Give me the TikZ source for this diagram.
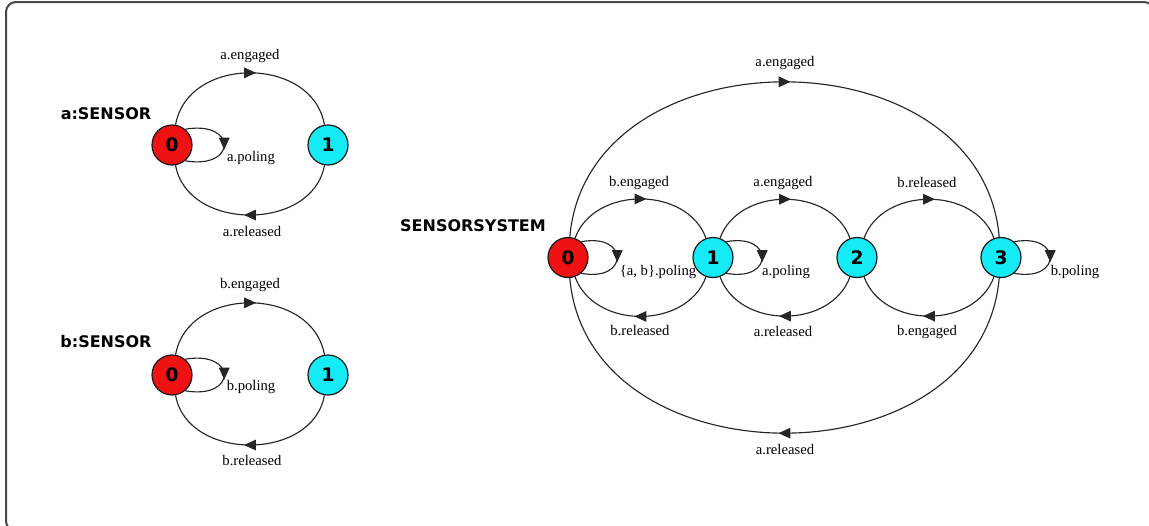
\documentclass[tikz,border=0pt]{standalone}
\usepackage{fontspec}
\setmainfont{Liberation Serif}
\newfontfamily\headfont{DejaVu Sans}
\usetikzlibrary{arrows.meta,decorations.markings}

\definecolor{statered}{RGB}{238,18,18}
\definecolor{statecyan}{RGB}{20,235,245}
\definecolor{framegray}{RGB}{70,70,70}

\tikzset{
  st/.style={circle, draw=black!90, line width=0.9pt, minimum size=30pt, inner sep=0pt,
             font=\headfont\bfseries\fontsize{14}{14}\selectfont},
  initst/.style={st, fill=statered},
  otherst/.style={st, fill=statecyan},
  edge/.style={draw=black!85, line width=0.85pt},
  fwd/.style={postaction={decorate}, decoration={markings,
      mark=at position 0.5 with {\arrow[xshift=4.5pt]{Triangle[length=9pt,width=8pt]}}}},
  loopfwd/.style={postaction={decorate}, decoration={markings,
      mark=at position 0.5 with {\arrow[xshift=3.5pt]{Triangle[length=9pt,width=8pt]}}}},
  lbl/.style={inner sep=0pt, font=\fontsize{11}{11}\selectfont},
  ttl/.style={inner sep=0pt, font=\headfont\bfseries\fontsize{12}{12}\selectfont},
  frame/.style={draw=framegray, line width=1.5pt, rounded corners=7.5pt}
}

\begin{document}
\begin{tikzpicture}[x=0.75pt,y=0.75pt]
\useasboundingbox (0,0) rectangle (1149,-525);
\begin{scope}
\clip (0,0) rectangle (1149,-525);
\draw[frame] (6,-2) rectangle (1154,-531);
\end{scope}

% ---- a:SENSOR ----
\node[ttl] (ta) at (106,-114) {a:SENSOR};
\node[initst]  (a0) at (172,-145) {0};
\node[otherst] (a1) at (328,-145) {1};
\draw[edge,fwd] (a0) to[out=80,in=100,looseness=1.21] (a1);
\draw[edge,fwd] (a1) to[out=-100,in=-80,looseness=1.16] (a0);
\draw[edge,loopfwd] (a0.50) .. controls +(52,9) and +(52,-9) .. (a0.-50);
\node[lbl] (la1) at (250,-56) {a.engaged};
\node[lbl] (la2) at (251,-158) {a.poling};
\node[lbl] (la3) at (252,-232) {a.released};

% ---- b:SENSOR ----
\node[ttl] (tb) at (106,-342) {b:SENSOR};
\node[initst]  (b0) at (172,-375) {0};
\node[otherst] (b1) at (328,-375) {1};
\draw[edge,fwd] (b0) to[out=80,in=100,looseness=1.21] (b1);
\draw[edge,fwd] (b1) to[out=-100,in=-80,looseness=1.16] (b0);
\draw[edge,loopfwd] (b0.50) .. controls +(52,9) and +(52,-9) .. (b0.-50);
\node[lbl] (lb1) at (250,-285) {b.engaged};
\node[lbl] (lb2) at (251,-387) {b.poling};
\node[lbl] (lb3) at (252,-461) {b.released};

% ---- SENSORSYSTEM ----
\node[ttl] (ts) at (473,-225.5) {SENSORSYSTEM};
\node[initst]  (s0) at (568,-257.5) {0};
\node[otherst] (s1) at (713,-257.5) {1};
\node[otherst] (s2) at (857,-257.5) {2};
\node[otherst] (s3) at (1001,-257.5) {3};

\draw[edge,fwd] (s0) to[out=85,in=95,looseness=1.24] (s3);
\draw[edge,fwd] (s3) to[out=-95,in=-85,looseness=1.24] (s0);

\draw[edge,fwd] (s0) to[out=70,in=110,looseness=1.09] (s1);
\draw[edge,fwd] (s1) to[out=-110,in=-70,looseness=1.1] (s0);
\draw[edge,fwd] (s1) to[out=70,in=110,looseness=1.09] (s2);
\draw[edge,fwd] (s2) to[out=-110,in=-70,looseness=1.1] (s1);
\draw[edge,fwd] (s2) to[out=70,in=110,looseness=1.09] (s3);
\draw[edge,fwd] (s3) to[out=-110,in=-70,looseness=1.1] (s2);

\draw[edge,loopfwd] (s0.50) .. controls +(48,9) and +(48,-9) .. (s0.-50);
\draw[edge,loopfwd] (s1.50) .. controls +(48,9) and +(48,-9) .. (s1.-50);
\draw[edge,loopfwd] (s3.50) .. controls +(48,9) and +(48,-9) .. (s3.-50);

\node[lbl] (ls1) at (785,-63) {a.engaged};
\node[lbl] (ls2) at (785,-450) {a.released};
\node[lbl] (ls3) at (639,-182.5) {b.engaged};
\node[lbl] (ls4) at (783,-182.5) {a.engaged};
\node[lbl] (ls5) at (927,-182.5) {b.released};
\node[lbl] (ls6) at (640,-331) {b.released};
\node[lbl] (ls7) at (783,-331.5) {a.released};
\node[lbl] (ls8) at (927,-331.5) {b.engaged};
\node[lbl] (ls9) at (658,-272) {\{a, b\}.poling};
\node[lbl] (ls10) at (786,-271.5) {a.poling};
\node[lbl] (ls11) at (1075,-271.5) {b.poling};
\end{tikzpicture}
\end{document}
